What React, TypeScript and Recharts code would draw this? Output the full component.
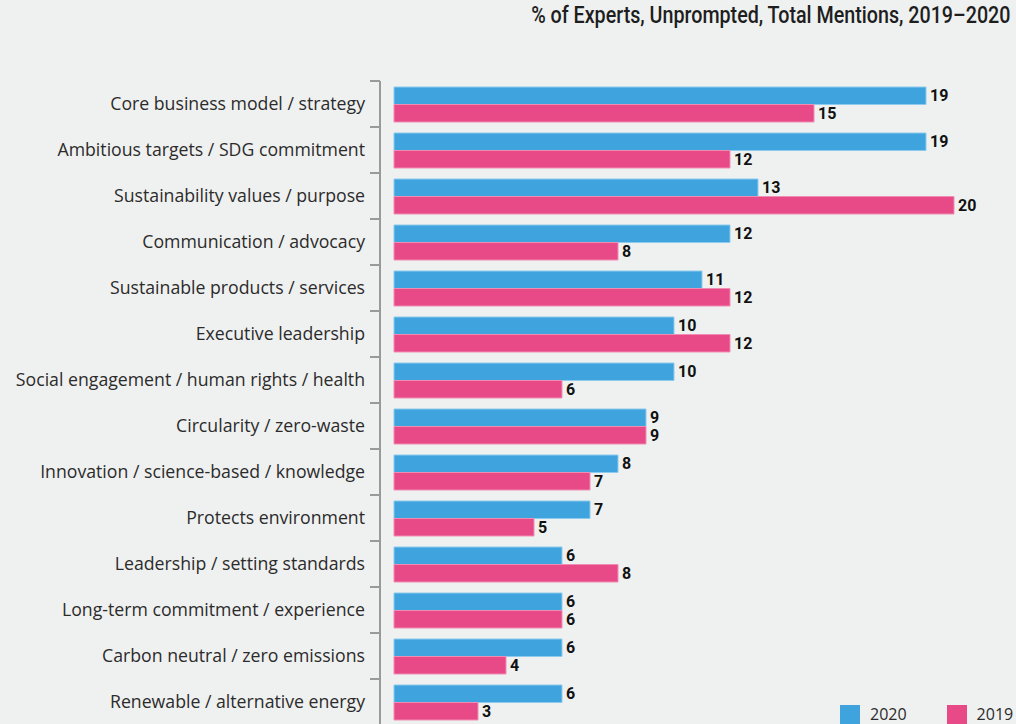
import React from 'react';
import { Bar, BarChart, LabelList, XAxis, YAxis } from 'recharts';

const CATEGORIES = [
  'Core business model / strategy',
  'Ambitious targets / SDG commitment',
  'Sustainability values / purpose',
  'Communication / advocacy',
  'Sustainable products / services',
  'Executive leadership',
  'Social engagement / human rights / health',
  'Circularity / zero-waste',
  'Innovation / science-based / knowledge',
  'Protects environment',
  'Leadership / setting standards',
  'Long-term commitment / experience',
  'Carbon neutral / zero emissions',
  'Renewable / alternative energy',
];

const VALUES_2020 = [19, 19, 13, 12, 11, 10, 10, 9, 8, 7, 6, 6, 6, 6];
const VALUES_2019 = [15, 12, 20, 8, 12, 12, 6, 9, 7, 5, 8, 6, 4, 3];

const SERIES = [
  { key: 'y2020', label: '2020' },
  { key: 'y2019', label: '2019' },
];

const COLORS = {
  bg: '#eff1f0',
  blue: '#3fa3de',
  blueEdge: '#8ccbee',
  pink: '#e84a87',
  pinkEdge: '#f08db3',
  axis: '#9a9a9a',
  text: '#2b2b2b',
};

const rows = CATEGORIES.map((name, i) => ({
  name,
  y2020: VALUES_2020[i],
  y2019: VALUES_2019[i],
}));

const BAND = 46;
const AXIS_X = 380;

// category label + tick mark at the top edge of each band
const CategoryTick = (props: any) => {
  const { y, payload } = props;
  return (
    <g>
      <line x1={AXIS_X - 10} x2={AXIS_X} y1={y - BAND / 2} y2={y - BAND / 2} stroke={COLORS.axis} strokeWidth={2} />
      <text
        x={AXIS_X - 15}
        y={y}
        dy="0.35em"
        textAnchor="end"
        fontFamily='"Open Sans", sans-serif'
        fontSize={17.7}
        fill={COLORS.text}
      >
        {payload.value}
      </text>
    </g>
  );
};

const valueLabelStyle = {
  fontFamily: 'Roboto, sans-serif',
  fontWeight: 700,
  fontSize: 16,
  fill: '#111',
};

export default function App() {
  const colorOf: Record<string, string> = { y2020: COLORS.blue, y2019: COLORS.pink };
  return (
    <div
      style={{
        position: 'fixed',
        left: 0,
        top: 0,
        width: 1016,
        height: 724,
        overflow: 'hidden',
        background: COLORS.bg,
      }}
    >
      <div
        style={{
          position: 'absolute',
          right: 6,
          top: 1,
          fontFamily: 'Roboto, sans-serif',
          fontWeight: 500,
          fontSize: 24,
          color: '#1e1e1e',
          whiteSpace: 'nowrap',
          transform: 'scaleX(0.82)',
          transformOrigin: 'right center',
        }}
      >
        % of Experts, Unprompted, Total Mentions, 2019–2020
      </div>
      <BarChart
        width={1016}
        height={740}
        data={rows}
        layout="vertical"
        margin={{ top: 81, right: 6, bottom: 15, left: 0 }}
        barGap={0}
        barCategoryGap={5}
      >
        <XAxis type="number" domain={[-0.5, 22]} hide />
        <YAxis
          type="category"
          dataKey="name"
          width={AXIS_X}
          interval={0}
          axisLine={{ stroke: COLORS.axis, strokeWidth: 2 }}
          tickLine={false}
          tick={<CategoryTick />}
        />
        <Bar
          dataKey="y2020"
          name="2020"
          fill={COLORS.blue}
          stroke={COLORS.blueEdge}
          strokeWidth={1}
          barSize={17.5}
          isAnimationActive={false}
        >
          <LabelList dataKey="y2020" position="right" offset={4} style={valueLabelStyle} />
        </Bar>
        <Bar
          dataKey="y2019"
          name="2019"
          fill={COLORS.pink}
          stroke={COLORS.pinkEdge}
          strokeWidth={1}
          barSize={17.5}
          isAnimationActive={false}
        >
          <LabelList dataKey="y2019" position="right" offset={4} style={valueLabelStyle} />
        </Bar>
      </BarChart>
      <div
        style={{
          position: 'absolute',
          left: 840,
          top: 703,
          display: 'flex',
          fontFamily: '"Open Sans", sans-serif',
          fontSize: 16,
          color: COLORS.text,
        }}
      >
        {SERIES.map((s, i) => (
          <div key={s.key} style={{ display: 'flex', alignItems: 'center', marginLeft: i === 0 ? 0 : 40 }}>
            <span style={{ display: 'inline-block', width: 20, height: 19, background: colorOf[s.key], marginRight: 10 }} />
            <span>{s.label}</span>
          </div>
        ))}
      </div>
    </div>
  );
}
